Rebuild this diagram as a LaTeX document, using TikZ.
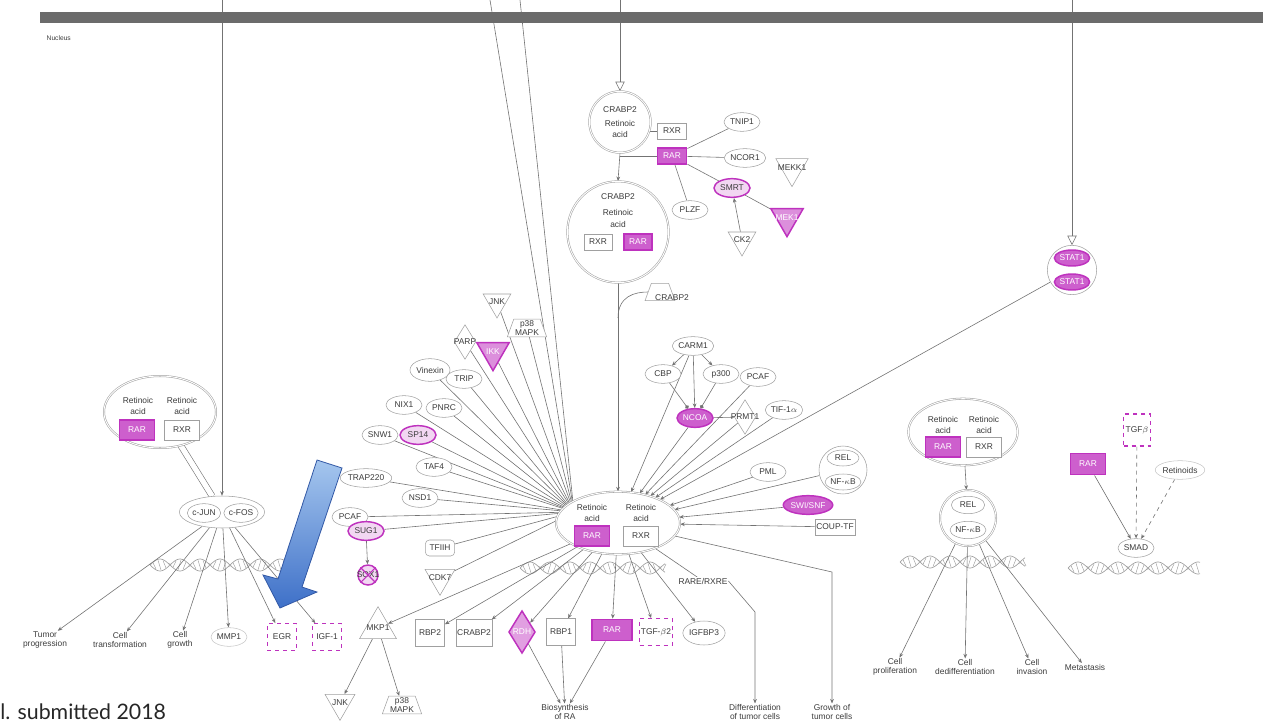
\documentclass[tikz,border=0pt]{standalone}
\usepackage{fontspec}
\setmainfont{Liberation Sans}
\newfontfamily\capfont{Lato}
\usetikzlibrary{shapes.geometric,arrows.meta}
\pgfdeclarelayer{bg}
\pgfsetlayers{bg,main}
\definecolor{mag}{RGB}{190,50,190}
\definecolor{magfill}{RGB}{205,95,205}
\definecolor{lgray}{RGB}{160,160,160}
\definecolor{lnc}{RGB}{115,115,115}
\definecolor{txtc}{RGB}{60,60,60}
\definecolor{blueA}{RGB}{165,198,238}
\definecolor{blueB}{RGB}{62,112,200}
\definecolor{blueC}{RGB}{50,88,165}
\newcommand{\dnaHelix}[3]{%
  \draw[lgray, line width=0.5pt] plot[domain=0:#3, samples=90, smooth] ({#1+\x},{#2+6*sin(\x*9)});
  \draw[lgray, line width=0.5pt] plot[domain=0:#3, samples=90, smooth] ({#1+\x},{#2-6*sin(\x*9)});
  \foreach \t in {3,8,...,#3} {\draw[lgray, line width=0.35pt] ({#1+\t},{#2-5*sin(\t*9)}) -- ({#1+\t+3},{#2+5*sin((\t+3)*9)});}
}
\tikzset{
 lab/.style={font=\fontsize{6.3}{6.8}\selectfont, text=txtc},
 gell/.style={lab, ellipse, draw=lgray, fill=white, inner sep=0pt, minimum width=27pt, minimum height=14pt},
 mell/.style={lab, ellipse, draw=mag, line width=1.1pt, fill=magfill!25!white, inner sep=0pt, minimum width=27pt, minimum height=14pt},
 mellf/.style={lab, ellipse, draw=mag, line width=1.1pt, fill=magfill, text=white, inner sep=0pt, minimum width=27pt, minimum height=14pt},
 grect/.style={lab, rectangle, draw=lgray, fill=white, minimum width=22pt, minimum height=12pt, inner sep=1pt},
 mrect/.style={lab, rectangle, draw=mag, line width=1.1pt, fill=magfill, text=white, minimum width=22pt, minimum height=12pt, inner sep=1pt},
 mdash/.style={lab, rectangle, draw=mag, dashed, line width=0.9pt, fill=white, minimum width=22pt, minimum height=20pt, inner sep=1pt},
 ginv/.style={regular polygon, regular polygon sides=3, shape border rotate=180, draw=lgray, fill=white, inner sep=0pt, minimum size=26pt},
 minv/.style={ginv, draw=mag, line width=1.1pt, fill=magfill!70!white},
 gtri/.style={regular polygon, regular polygon sides=3, draw=lgray, fill=white, inner sep=0pt, minimum size=30pt},
 gdia/.style={diamond, draw=lgray, fill=white, inner sep=0pt, minimum width=16pt, minimum height=26pt},
 mdia/.style={gdia, draw=mag, line width=1.1pt, fill=magfill!60!white},
 gtrap/.style={lab, trapezium, draw=lgray, fill=white, inner sep=1pt, trapezium angle=70, minimum width=20pt, minimum height=12pt, align=center},
 gcplx/.style={draw=lgray, double=white, double distance=0.7pt, fill=white},
 fun/.style={lab, align=center, inner sep=0.5pt},
 ln/.style={draw=lnc, line width=0.45pt},
 arr/.style={ln, -{Stealth[length=3.4pt,width=2.8pt]}},
 oarr/.style={ln, -{Triangle[open,length=7pt,width=7pt]}},
}
\begin{document}
\begin{tikzpicture}[x=0.75pt,y=-0.75pt]
\useasboundingbox (0,0) rectangle (1263,724);
% membrane bar
\fill[black!58] (40,12) rectangle (1263,23);
\node[lab, anchor=west, font=\fontsize{5}{5.5}\selectfont] (nuc) at (42,38) {Nucleus};
\coordinate (t1) at (222,0);
\coordinate (t2) at (490,0);
\coordinate (t3) at (520,0);
\coordinate (t4) at (620,0);
\coordinate (t5) at (1072,0);

% ---------- top complex ----------
\node[gcplx, circle, minimum size=46pt] (crabA) at (620,122) {};
\node[lab] at (620,110) {CRABP2};
\node[lab] at (620,123) {Retinoic};
\node[lab] at (620,134) {acid};
\node[grect] (rxr1) at (672,131) {RXR};
\node[mrect] (rar1) at (672,156) {RAR};
\node[gell] (tnip) at (742,122) {TNIP1};
\node[gell] (ncor) at (745,158) {NCOR1};
\node[ginv, minimum size=28pt, label={[lab]center:MEKK1}] (mekk) at (792,168) {};
\node[mell] (smrt) at (732,188) {SMRT};
\node[minv, minimum size=28pt, label={[lab,text=white]center:MEK1}] (mek1) at (787,218) {};
\node[gell] (plzf) at (690,210) {PLZF};
\node[ginv, minimum size=24pt, label={[lab]center:CK2}] (ck2) at (742,240) {};
\node[gcplx, circle, minimum size=76pt] (crabB) at (618,232) {};
\node[lab] at (618,197) {CRABP2};
\node[lab] at (618,212) {Retinoic};
\node[lab] at (618,224) {acid};
\node[grect, minimum width=21pt] (rxr2) at (598,242) {RXR};
\node[mrect, minimum width=21pt] (rar2) at (638,242) {RAR};
\node[trapezium, draw=lgray, fill=white, trapezium angle=70, minimum width=18pt, minimum height=13pt] (crab3s) at (660,292) {};
\node[lab, inner sep=1pt] (crab3) at (672,298) {CRABP2};

% ---------- STAT1 ----------
\node[circle, draw=lgray, fill=white, minimum size=37pt] (stat) at (1072,270) {};
\node[mellf, minimum width=26pt, minimum height=12pt] (sta) at (1072,258) {STAT1};
\node[mellf, minimum width=26pt, minimum height=12pt] (stb) at (1072,282) {STAT1};

% ---------- hub ----------
\node[gcplx, ellipse, minimum width=93pt, minimum height=47pt] (hub) at (618,523) {};
\node[lab] at (592,507) {Retinoic};
\node[lab] at (592,518) {acid};
\node[lab] at (641,507) {Retinoic};
\node[lab] at (641,518) {acid};
\node[mrect, minimum width=26pt, minimum height=15pt] (rarh) at (592,536) {RAR};
\node[grect, minimum width=26pt, minimum height=15pt] (rxrh) at (641,536) {RXR};
\coordinate (hl) at (574,512);

% ---------- left ring ----------
\node[ginv, minimum size=24pt, label={[lab]center:JNK}] (jnk1) at (497,302) {};
\node[gtrap] (p38a) at (527,328) {p38\\MAPK};
\node[gdia, label={[lab]center:PARP}] (parp) at (465,342) {};
\node[minv, minimum size=28pt, label={[lab,text=white]center:IKK}] (ikk) at (493,352) {};
\node[gell, minimum width=30pt, minimum height=17pt] (vin) at (430,370) {Vinexin};
\node[gell] (trip) at (464,379) {TRIP};
\node[gell] (nix) at (404,405) {NIX1};
\node[gell] (pnrc) at (444,408) {PNRC};
\node[gell] (snw) at (380,435) {SNW1};
\node[mell] (sp14) at (418,435) {SP14};
\node[gell] (taf4) at (434,467) {TAF4};
\node[gell] (trap) at (366,478) {TRAP220};
\node[gell] (nsd1) at (420,498) {NSD1};
\node[gell] (pcafa) at (350,517) {PCAF};
\node[mell] (sug1) at (366,531) {SUG1};
\node[mell, circle, minimum size=15pt, inner sep=0pt, label={[lab]center:SOX1}] (sox) at (368,575) {};
\draw[mag, line width=0.8pt] (sox.north west) -- (sox.south east) (sox.north east) -- (sox.south west);
\node[grect, rounded corners=3pt] (tfiih) at (440,548) {TFIIH};
\node[ginv, minimum size=26pt, label={[lab]center:CDK7}] (cdk7) at (440,578) {};

% ---------- right ring ----------
\node[gell] (carm) at (693,346) {CARM1};
\node[gell] (cbp) at (663,374) {CBP};
\node[gell] (p300) at (721,374) {p300};
\node[gell] (pcafb) at (758,377) {PCAF};
\node[mellf] (ncoa) at (695,418) {NCOA};
\node[gdia, label={[lab]center:PRMT1}] (prmt) at (745,417) {};
\node[gell] (tif) at (784,410) {TIF-1$\alpha$};
\node[gell] (pml) at (768,472) {PML};
\node[circle, draw=lgray, fill=white, minimum size=36pt] (rel) at (843,470) {};
\node[gell, minimum width=24pt, minimum height=12pt] (rela) at (843,458) {REL};
\node[gell, minimum width=24pt, minimum height=12pt] (relb) at (843,482) {NF-$\kappa$B};
\node[mellf] (sw) at (808,505) {SWI/SNF};
\node[grect] (coup) at (835,527) {COUP-TF};

% ---------- bottom ----------
\node[gtri, minimum size=32pt, label={[lab]center:MKP1}] (mkp1) at (378,628) {};
\node[ginv, minimum size=26pt, label={[lab]center:JNK}] (jnk2) at (340,703) {};
\node[gtrap] (p38b) at (402,705) {p38\\MAPK};
\node[grect, minimum height=20pt] (rbp2) at (430,633) {RBP2};
\node[grect, minimum height=20pt] (crabc) at (474,633) {CRABP2};
\node[mdia, minimum width=20pt, minimum height=32pt, label={[lab,text=white]center:RDH}] (rdh) at (522,632) {};
\node[grect, minimum height=20pt] (rbp1) at (561,632) {RBP1};
\node[mrect, minimum width=30pt, minimum height=16pt] (rarb) at (612,630) {RAR};
\node[mdash] (tgfb2) at (656,632) {TGF-$\beta$2};
\node[gell, minimum height=18pt] (igfbp) at (704,633) {IGFBP3};
\node[fun] (biosyn) at (565,712) {Biosynthesis\\of RA};
\node[lab, fill=white, inner sep=0.5pt] (rare) at (703,581) {RARE/RXRE};
\node[fun] (diff) at (755,712) {Differentiation\\of tumor cells};
\node[fun] (grow) at (832,712) {Growth of\\tumor cells};
\coordinate (dk) at (755,612);
\coordinate (gk) at (832,572);

% ---------- left group ----------
\node[gcplx, ellipse, minimum width=84pt, minimum height=54pt] (lc) at (160,412) {};
\node[lab] at (138,400) {Retinoic};
\node[lab] at (138,411) {acid};
\node[lab] at (182,400) {Retinoic};
\node[lab] at (182,411) {acid};
\node[mrect, minimum width=26pt, minimum height=15pt] (lrar) at (137,430) {RAR};
\node[grect, minimum width=26pt, minimum height=15pt] (lrxr) at (182,430) {RXR};
\node[ellipse, draw=lgray, fill=white, minimum width=64pt, minimum height=24pt] (cj) at (222,512) {};
\node[gell, minimum width=25pt, minimum height=14pt] (cjun) at (204,513) {c-JUN};
\node[gell, minimum width=25pt, minimum height=14pt] (cfos) at (241,513) {c-FOS};
\node[fun] (tum) at (45,640) {Tumor\\progression};
\node[fun] (ctr) at (120,640) {Cell\\transformation};
\node[fun] (cgr) at (180,640) {Cell\\growth};
\node[gell, draw=lgray!60] (mmp) at (229,637) {MMP1};
\node[mdash] (egr) at (282,637) {EGR};
\node[mdash] (igf) at (327,637) {IGF-1};

% ---------- right group ----------
\node[gcplx, ellipse, minimum width=82pt, minimum height=50pt] (rc) at (963,432) {};
\node[lab] at (943,419) {Retinoic};
\node[lab] at (943,430) {acid};
\node[lab] at (984,419) {Retinoic};
\node[lab] at (984,430) {acid};
\node[mrect, minimum width=26pt, minimum height=15pt] (rrar) at (943,447) {RAR};
\node[grect, minimum width=26pt, minimum height=15pt] (rrxr) at (984,447) {RXR};
\node[gcplx, circle, minimum size=42pt] (rel2) at (968,518) {};
\node[gell, minimum width=25pt, minimum height=13pt] (rel2a) at (968,505) {REL};
\node[gell, minimum width=25pt, minimum height=13pt] (rel2b) at (968,530) {NF-$\kappa$B};
\node[fun] (cpro) at (895,667) {Cell\\proliferation};
\node[fun] (cded) at (965,667) {Cell\\dedifferentiation};
\node[fun] (cinv) at (1032,667) {Cell\\invasion};
\node[fun] (meta) at (1085,667) {Metastasis};

% ---------- far right ----------
\node[mrect, minimum width=26pt, minimum height=16pt] (rarc) at (1088,464) {RAR};
\node[mdash, minimum width=20pt, minimum height=24pt] (tgfb) at (1137,430) {TGF$\beta$};
\node[gell, draw=lgray!60] (retd) at (1180,470) {Retinoids};
\node[gell] (smad) at (1136,548) {SMAD};

% ---------- connectors ----------
\begin{pgfonlayer}{bg}
\dnaHelix{150}{565}{150}
\dnaHelix{520}{568}{145}
\dnaHelix{900}{562}{125}
\dnaHelix{1068}{568}{132}
\draw[oarr] (t4) -- (crabA.north);
\draw[arr] (crabA.south) -- (crabB.north);
\draw[ln] (rxr1.west) -- (rxr1.west -| crabA.south);
\draw[ln] (rar1.west) -- (rar1.west -| crabA.south);
\foreach \nd in {tnip,ncor,smrt,plzf} \draw[ln] (rar1) -- (\nd);
\draw[ln] (smrt) -- (mek1);
\draw[arr] (ck2) -- (smrt);
\draw[arr] (crabB.south) -- (hub.north);
\draw[ln] (crab3s.west) .. controls (635,292) and (618,296) .. (618,318);
\draw[oarr] (t5) -- (stat.north);
\foreach \nd in {t2,t3,jnk1,p38a,parp,ikk,vin,trip,nix,pnrc,snw,sp14,taf4,trap,nsd1,pcafa,sug1,tfiih,cdk7} \draw[ln] (\nd) -- (hl);
\draw[arr] (sug1) -- (sox);
\foreach \nd in {carm,ncoa,prmt,pcafb,tif,stat,pml,rel,sw,coup} \draw[arr] (\nd) -- (hub);
\draw[arr] (carm) -- (cbp);
\draw[arr] (carm) -- (p300);
\draw[arr] (carm) -- (ncoa);
\draw[-{Circle[length=3pt]}, draw=lnc, line width=0.45pt] (cbp) -- (ncoa);
\draw[-{Circle[length=3pt]}, draw=lnc, line width=0.45pt] (p300) -- (ncoa);
\draw[ln] (ncoa) -- (prmt);
\foreach \nd in {mkp1,rbp2,crabc,rdh,rbp1,rarb,tgfb2,igfbp} \draw[arr] (hub) -- (\nd);
\draw[arr] (mkp1) -- (jnk2);
\draw[arr] (mkp1) -- (p38b);
\draw[arr] (rdh) -- (biosyn);
\draw[arr] (rbp1) -- (biosyn);
\draw[arr] (rarb) -- (biosyn);
\draw[ln] (hub) -- (rare);
\draw[arr] (rare.east) -- (dk) -- (diff.north);
\draw[arr] (hub) -- (gk) -- (grow.north);
\draw[arr] (t1) -- (cj.north);
\draw[draw=lnc, line width=0.45pt, double=white, double distance=4pt] (lc) -- (cj);
\foreach \nd in {tum,ctr,cgr,mmp,egr,igf} \draw[arr] (cj) -- (\nd);
\draw[arr] (rc) -- (rel2);
\foreach \nd in {cpro,cded,cinv,meta} \draw[arr] (rel2) -- (\nd);
\draw[arr] (rarc) -- (smad);
\draw[arr, dashed] (tgfb) -- (smad);
\draw[arr, dashed] (retd) -- (smad);
\end{pgfonlayer}

% ---------- blue arrow ----------
\shade[top color=blueA, bottom color=blueB, draw=blueC, line width=0.6pt]
  (317,460) -- (342,468) -- (302,587) -- (317,592) -- (280,608) -- (263,575) -- (278,579) -- cycle;

\node[anchor=base west, inner sep=0pt, font=\capfont\fontsize{16}{16}\selectfont, text=black!85] (cite) at (0,719) {l. submitted 2018};
\end{tikzpicture}
\end{document}
